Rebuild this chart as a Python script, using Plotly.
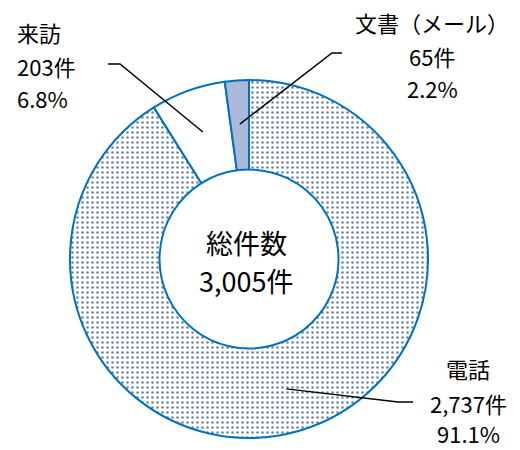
import math
import plotly.graph_objects as go

# ---- data ----
categories = ["電話", "来訪", "文書（メール）"]
counts = [2737, 203, 65]
percent_labels = ["91.1%", "6.8%", "2.2%"]
count_labels = ["2,737件", "203件", "65件"]
total_label = "3,005件"
center_title = "総件数"

W, H = 520, 450
CX, CY, R = 249, 259, 179  # pie centre / radius in px
FONT = "Noto Sans CJK JP, Noto Sans, sans-serif"

def px(x):
    return x / W

def py(y):
    return 1 - y / H

fig = go.Figure()
fig.add_trace(go.Pie(
    labels=categories,
    values=counts,
    sort=False,
    direction="clockwise",
    rotation=0,
    hole=0.5,
    textinfo="none",
    hoverinfo="skip",
    showlegend=False,
    marker=dict(
        colors=["#f7f9fc", "#ffffff", "#aab9da"],
        line=dict(color="#0070c0", width=2),
        pattern=dict(
            shape=[".", "", ""],
            fgcolor=["#6e82a3", "#ffffff", "#aab9da"],
            size=5,
            solidity=0.2,
        ),
    ),
    domain=dict(x=[px(CX - R), px(CX + R)], y=[py(CY + R), py(CY - R)]),
))

# slice mid angles for leader line endpoints
total = sum(counts)
cum = 0
mids = []
for v in counts:
    mids.append((cum + v / 2) / total * 2 * math.pi)
    cum += v

def inner_point(i, frac=0.755):
    a = mids[i]
    return CX + math.sin(a) * R * frac, CY - math.cos(a) * R * frac

label_layout = [
    dict(x=468, xanchor="center", ys=[368, 403, 433], bend=(398, 402), end=(413, 402)),
    dict(x=15, xanchor="left", ys=[32, 66, 98], bend=(120, 64), end=(108, 64)),
    dict(x=432, xanchor="center", ys=[22, 56, 88], bend=(332, 53), end=(342, 53)),
]

annotations = []
shapes = []
for i, lay in enumerate(label_layout):
    texts = [categories[i], count_labels[i], percent_labels[i]]
    for t, y in zip(texts, lay["ys"]):
        annotations.append(dict(
            x=px(lay["x"]), y=py(y), xref="paper", yref="paper",
            text=t, showarrow=False, xanchor=lay["xanchor"], yanchor="middle",
            font=dict(family=FONT, size=22, color="#000000"),
        ))
    x0, y0 = inner_point(i)
    bx, by = lay["bend"]
    ex, ey = lay["end"]
    shapes.append(dict(
        type="path", xref="paper", yref="paper",
        path=f"M {px(x0)},{py(y0)} L {px(bx)},{py(by)} L {px(ex)},{py(ey)}",
        line=dict(color="#000000", width=1.5),
    ))

for t, y in [(center_title, 242), (total_label, 280)]:
    annotations.append(dict(
        x=px(246), y=py(y), xref="paper", yref="paper",
        text=t, showarrow=False, xanchor="center", yanchor="middle",
        font=dict(family=FONT, size=27, color="#000000"),
    ))

fig.update_layout(
    width=W, height=H,
    margin=dict(l=0, r=0, t=0, b=0),
    paper_bgcolor="white", plot_bgcolor="white",
    annotations=annotations,
    shapes=shapes,
)

fig.write_html("out.html")
